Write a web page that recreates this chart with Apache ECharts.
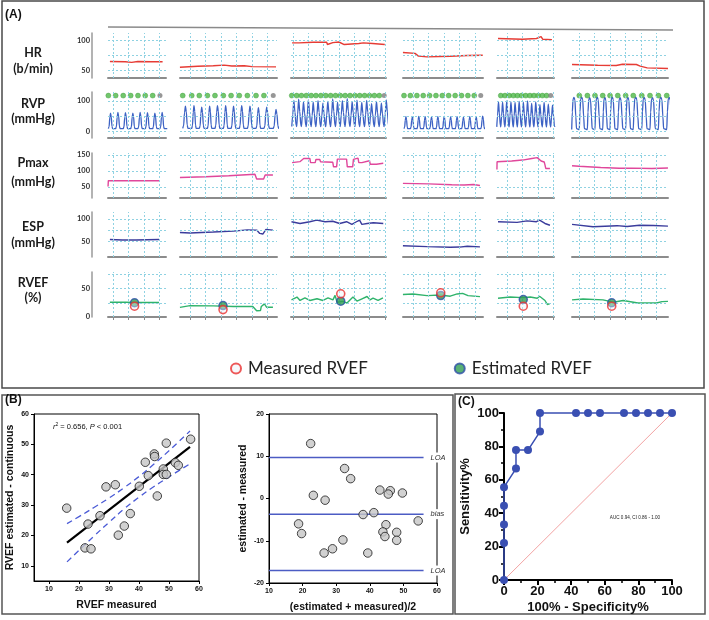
<!DOCTYPE html>
<html><head><meta charset="utf-8">
<script src="https://cdn.jsdelivr.net/npm/echarts@6/dist/echarts.min.js"></script>
<style>html,body{margin:0;padding:0;background:#fff}#c{width:709px;height:620px}</style>
</head><body><div id="c"></div>
<script>
// ================= DATA =================
// Panel A row labels
const rowNames = ['HR','RVP','Pmax','ESP','RVEF'];
const rowUnits = ['(b/min)','(mmHg)','(mmHg)','(mmHg)','(%)'];
// tick labels (first column y axes)
const hrTicks = [50,100];
const rvpTicks = [0,100];
const pmaxTicks = [50,100,150];
const espTicks = [50,100];
const rvefTicks = [0,50];
// horizontal reference grid values
const hrGridVals = [50,75,100];
const rvpGridVals = [0,50,100];
const pmaxGridVals = [50,100,150];
const espGridVals = [50,75,100];
const rvefGridVals = [25,50,75];

// HR traces [time(s), b/min]
const hr1 = [[-0.2,64.5],[0.8,64],[1.2,63],[1.6,64.5],[2.5,64],[3.2,64]];
const hr2 = [[-0.65,55],[0.5,56.5],[1.5,57.5],[2.2,58.5],[2.7,57],[3.5,57.5],[4.0,56],[5.55,55.5]];
const hr3 = [[-0.06,95.5],[0.4,95.5],[0.45,98],[1.3,96.7],[2.2,96.5],[2.25,92.8],[2.6,96],[3.0,97],[3.35,92.8],[4.3,94.5],[4.6,95.5],[5.2,94.5],[6.0,92.8]];
const hr4 = [[-0.65,79.5],[0.13,78],[0.35,73.5],[0.9,72.2],[2.4,73.3],[3.5,74.5],[4.5,75]];
const hr5 = [[-0.58,102.8],[1.0,101.7],[1.05,104.5],[1.9,102.8],[2.0,106],[2.2,106],[2.3,101.7],[2.9,101]];
const hr6 = [[-0.45,59.5],[1.2,58.3],[2.4,57.8],[2.8,60],[3.7,59.5],[3.95,56.7],[4.4,53.8],[5.74,52.8]];

// RVP: beat onsets (s) and peak pressures (mmHg) per cell
const rvpOnsets1 = [-0.30,0.17,0.66,1.14,1.61,2.08,2.56,3.03];
const rvpPeaks1  = [60,62,61,60,62,61,60,62];
const rvpOnsets2 = [-0.47,0.11,0.6,1.12,1.61,2.15,2.65,3.18,3.7,4.26,4.77,5.37];
const rvpPeaks2  = [83,85,80,83,85,85,83,85,83,78,80,72];
const rvpOnsets3 = [-0.08,0.24,0.55,0.87,1.19,1.5,1.82,2.14,2.46,2.78,3.09,3.41,3.73,4.05,4.36,4.68,5.0,5.32,5.64,5.96];
const rvpPeaks3  = [102,106,97,104,96,101,93,99,107,96,101,108,98,103,95,102,91,99,93,104];
const rvpOnsets4 = [-0.58,-0.17,0.25,0.66,1.07,1.48,1.89,2.3,2.72,3.13,3.54,3.95,4.37];
const rvpPeaks4  = [48,47,49,48,47,48,49,47,48,46,48,47,50];
const rvpOnsets5 = [-0.66,-0.4,-0.13,0.14,0.41,0.67,0.94,1.21,1.48,1.74,2.01,2.28,2.55,2.82];
const rvpPeaks5  = [98,96,100,97,95,99,96,100,92,97,88,95,90,86];
const rvpOnsets6 = [-0.47,0.02,0.54,1.03,1.53,2.0,2.5,3.01,3.5,4.05,4.58,5.12,5.66];
const rvpPeaks6  = [112,113,111,113,112,113,111,112,113,112,111,113,112];
const rvpTroughs = [8,9,15,8,14,5];
const rvpDotLevel = 118;
const rvpGrayLast = [true,true,true,true,true,false];

// Pmax traces
const pmax1 = [[-0.32,52],[-0.3,70],[0.5,69.5],[2.97,69.5]];
const pmax2 = [[-0.65,80],[1,82],[2.5,85],[4.19,90],[4.3,75],[4.75,75],[4.85,87.5],[5.35,87.5]];
const pmax3 = [[-0.06,126],[0.45,129],[0.7,139],[1.1,139],[1.15,126],[1.45,126],[1.5,136],[1.75,136],[1.8,129],[2.6,127],[2.65,113],[2.85,113],[2.9,137],[3.5,137],[3.55,113],[3.9,113],[3.95,136],[4.0,136],[4.05,140],[4.25,140],[4.3,126],[4.5,126],[4.55,132],[5.0,132],[5.05,121],[5.45,121],[5.5,124],[5.9,124]];
const pmax4 = [[-0.65,61.5],[1,60],[2.5,57],[3.3,56.5],[3.4,59],[3.9,58],[4.0,55.5],[4.32,55]];
const pmax5 = [[-0.65,105],[-0.64,129],[0.3,131],[1.0,134],[1.1,139],[1.6,139],[1.65,134],[1.7,141.6],[1.95,141.6],[2.2,131],[2.4,128],[2.45,119],[2.5,108],[2.77,108]];
const pmax6 = [[-0.45,116.5],[0.0,115],[0.1,111.5],[1.4,111],[1.5,108],[2.6,108.5],[2.7,109.5],[3.4,109],[3.5,108],[4.7,108],[4.8,109.5],[5.74,109.5]];

// ESP traces
const esp1 = [[-0.2,53.5],[0.6,52.5],[1.5,52.5],[2.2,53],[2.97,53.5]];
const esp2 = [[-0.65,69.5],[0,68.5],[1.5,70.5],[2.8,72.7],[3.7,75.5],[4.3,75],[4.5,67.5],[4.7,66],[4.9,76.5],[5.35,75]];
const esp3 = [[-0.1,94],[0.46,90],[1.1,94],[1.55,97.5],[2.1,94],[2.6,95],[3.05,90],[3.5,94],[3.85,88],[4.2,95],[4.35,97.5],[4.5,88],[4.85,90],[5.25,91.5],[5.9,90]];
const esp4 = [[-0.65,39.5],[0.9,37.5],[2.4,36],[3.0,36.5],[3.5,38.5],[4.32,37]];
const esp5 = [[-0.58,94],[0.65,92.5],[1.3,96],[1.9,94],[2.1,97.5],[2.45,90],[2.77,86]];
const esp6 = [[-0.45,88],[0.9,82.5],[2.45,85],[3.1,83],[3.9,86],[4.8,85.5],[5.74,84]];

// RVEF traces
const rvef1 = [[-0.2,26],[0.8,26],[1.5,25.5],[2.2,25.5],[2.97,25.5]];
const rvef2 = [[-0.65,17],[0,20],[1.5,19.5],[2.8,18.5],[4.05,18.5],[4.3,11],[4.55,11.5],[4.6,18.5],[4.8,23],[4.95,17],[5.35,17]];
const rvef3 = [[-0.1,30],[0.26,35],[0.46,29],[0.78,33.5],[1.1,29],[1.57,32],[1.96,29],[2.29,33.5],[2.61,30],[2.75,38],[2.88,26],[3.27,27.5],[3.53,24.5],[3.92,35],[4.18,28],[4.51,32],[4.84,36],[5.03,30],[5.23,33],[5.56,29],[5.88,33.5]];
const rvef4 = [[-0.65,39.5],[0,40.5],[0.9,37.5],[1.75,38.5],[2.4,36.5],[2.85,40.5],[3.2,41.5],[3.55,37.5],[4.32,35.7]];
const rvef5 = [[-0.58,33],[0.2,35],[1.0,34],[1.5,35],[1.95,33],[2.1,36.5],[2.45,29],[2.6,22],[2.77,23.5]];
const rvef6 = [[-0.45,30],[0.26,31.5],[1.55,30],[2.2,26],[2.85,29],[3.8,24.5],[5.0,24.5],[5.35,27],[5.74,27.5]];
const rvefPointT   = [1.39,2.13,3.12,1.79,1.05,2.11];
const rvefEstimated = [25,20,27.7,37.7,30.7,25];
const rvefMeasured  = [19,13,40.7,42.5,19,19];

// Panel B (left) scatter
const scMeasured  = [15.9,22,23,24,27,29,32.1,33.1,35.1,37.1,40.1,42.1,43.1,45.1,45.2,46.1,48.1,48.1,49.1,49.1,52.1,53.1,57.2];
const scEstimated = [29,15.9,23.75,15.6,26.5,36,36.7,20.1,23.1,27.2,36.2,44.1,39.7,46.85,46,33,41.9,40.1,50.4,40.1,44,43.1,51.7];
const regX = [16,57];
const regY = [17.6,49.2];
const ciX = [16,20,25,30,35,40,45,50,57];
const ciUpper = [23.9,26.2,29.2,32.3,35.7,39.4,43.5,47.9,54.4];
const ciLower = [11.3,15.1,19.8,24.3,28.7,32.6,36.1,39.3,43.6];
const scTicks = [10,20,30,40,50,60];

// Panel B (right) Bland-Altman
const baMean = [22.4,32.5,34.3,23.2,26.7,18.8,19.7,26.4,28.9,32.0,38.0,41.2,39.4,43.0,46.1,45.5,49.7,44.8,43.9,44.5,48.0,48.0,54.4];
const baDiff = [13.0,7.1,4.7,0.75,-0.4,-6.0,-8.3,-12.9,-11.9,-9.8,-3.8,-3.35,-12.9,2.0,1.85,1.05,1.3,-6.2,-7.9,-9.0,-8.0,-9.9,-5.3];
const baLineY = [9.7,-3.7,-17.05];
const baLineNames = ['LOA','bias','LOA'];
const baLineX = [10,56];

// Panel C ROC
const rocFpr = [0,0,0,0,0,7.14,7.14,14.29,21.43,21.43,42.86,50,57.14,71.43,78.57,85.71,92.86,100];
const rocTpr = [0,22.2,33.3,44.4,55.6,66.7,77.8,77.8,88.9,100,100,100,100,100,100,100,100,100];

// ================= LAYOUT / STYLE =================
const colLeft = [108,180,291,403,497,572];
const colWidth = [58,97,95,80,57,96];
const colGridOffset = [5,10,2,10,10,7];
const colPxPerSec = [15.5,15.5,15.3,15.5,15.5,15.5];
const rowTop = [33,92,153,212,272];
const rowHeight = [45,46,45,45,45];
const rowMin = [37,-23,16,14,0];
const rowMax = [112,130,156,116,79];
const rowLabelY = [[53,69],[104,119],[163,182],[227,243],[283,298]];
const rowColor = ['#e63c35','#3d62c4','#e0479b','#3b3c9c','#2fb36b'];
const rowTicks = [hrTicks,rvpTicks,pmaxTicks,espTicks,rvefTicks];
const rowGridVals = [hrGridVals,rvpGridVals,pmaxGridVals,espGridVals,rvefGridVals];
const traces = [
  [hr1,hr2,hr3,hr4,hr5,hr6], null,
  [pmax1,pmax2,pmax3,pmax4,pmax5,pmax6],
  [esp1,esp2,esp3,esp4,esp5,esp6],
  [rvef1,rvef2,rvef3,rvef4,rvef5,rvef6]
];
const rvpOnsets = [rvpOnsets1,rvpOnsets2,rvpOnsets3,rvpOnsets4,rvpOnsets5,rvpOnsets6];
const rvpPeaks = [rvpPeaks1,rvpPeaks2,rvpPeaks3,rvpPeaks4,rvpPeaks5,rvpPeaks6];
const beatShapes = {
  narrow: [[0,0],[0.1,0.12],[0.2,0.7],[0.3,1],[0.4,0.75],[0.5,0.15],[0.58,0],[1,0]],
  fast:   [[0,0],[0.2,0.45],[0.42,1],[0.65,0.55],[0.88,0.05],[1,0]],
  broad:  [[0,0],[0.08,0.55],[0.18,0.95],[0.3,1],[0.42,0.92],[0.54,0.4],[0.63,0.03],[1,0]]
};
const rvpShapeOf = ['narrow','narrow','fast','narrow','fast','broad'];

function buildWave(onsets, peaks, trough, shape){
  const pts = [];
  for (let i=0;i<onsets.length;i++){
    const t0 = onsets[i];
    const t1 = i<onsets.length-1 ? onsets[i+1] : t0 + (onsets[i]-onsets[i-1]);
    shape.forEach(([f,s],j)=>{
      if (j===shape.length-1 && i<onsets.length-1) return;
      pts.push([t0+f*(t1-t0), trough + s*(peaks[i]-trough)]);
    });
  }
  return pts;
}

const grids=[], xAxes=[], yAxes=[], series=[];
function addGrid(g,x,y){
  const gi = grids.length;
  grids.push(g);
  xAxes.push(Object.assign({gridIndex:gi}, x));
  yAxes.push(Object.assign({gridIndex:gi}, y));
  return gi;
}
const fA = 'Lato';
const fB = 'Liberation Sans';

for (let r=0;r<5;r++){
  for (let c=0;c<6;c++){
    const tMin = -colGridOffset[c]/colPxPerSec[c];
    const tMax = (colWidth[c]-colGridOffset[c])/colPxPerSec[c];
    const ints = [];
    for (let k=Math.ceil(tMin); k<=Math.floor(tMax); k++) ints.push(k);
    const gi = addGrid(
      {left:colLeft[c], top:rowTop[r], width:colWidth[c], height:rowHeight[r]},
      {type:'value', min:tMin, max:tMax,
       axisLine:{show:true, onZero:false, lineStyle:{color:'#8c8c8c', width:2}},
       axisTick: r===4 ? {show:true, customValues:ints, length:3, lineStyle:{color:'#8c8c8c', width:1}} : {show:false},
       axisLabel:{show:false}, splitLine:{show:false}},
      {type:'value', min:rowMin[r], max:rowMax[r], show:c===0, offset:16,
       axisLine:{show:true, onZero:false, lineStyle:{color:'#9a9a9a', width:1.5}},
       axisTick:{show:false},
       axisLabel:{customValues:rowTicks[r], fontSize:7.5, fontWeight:'bold', color:'#333', margin:2, fontFamily:fA},
       splitLine:{show:false}}
    );
    // dotted reference grid
    series.push({type:'line', xAxisIndex:gi, yAxisIndex:gi, data:[], silent:true, z:1,
      markLine:{silent:true, symbol:['none','none'], animation:false, label:{show:false},
        lineStyle:{color:'#8fd2e2', type:[2,2], width:1},
        data:[...ints.map(v=>({xAxis:v})), ...rowGridVals[r].map(v=>({yAxis:v}))]}});
    if (r===1){
      series.push({type:'line', xAxisIndex:gi, yAxisIndex:gi, silent:true, z:3,
        data: buildWave(rvpOnsets[c], rvpPeaks[c], rvpTroughs[c], beatShapes[rvpShapeOf[c]]),
        symbol:'none', smooth:0.3, smoothMonotone:'x', lineStyle:{color:rowColor[r], width:1.3}});
      const on = rvpOnsets[c];
      const greens = rvpGrayLast[c] ? on.slice(0,-1) : on;
      series.push({type:'scatter', xAxisIndex:gi, yAxisIndex:gi, silent:true, z:4,
        data: greens.map(t=>[t,rvpDotLevel]), symbolSize:5,
        itemStyle:{color:'#4fb848', borderColor:'#3c9a38', borderWidth:0.5}});
      if (rvpGrayLast[c]) series.push({type:'scatter', xAxisIndex:gi, yAxisIndex:gi, silent:true, z:4,
        data: [[on[on.length-1],rvpDotLevel]], symbolSize:5, itemStyle:{color:'#7d7d7d'}});
    } else {
      series.push({type:'line', xAxisIndex:gi, yAxisIndex:gi, silent:true, z:3,
        data: traces[r][c], symbol:'none', lineStyle:{color:rowColor[r], width:1.4}});
    }
    if (r===4){
      series.push({type:'scatter', name:'Estimated RVEF', xAxisIndex:gi, yAxisIndex:gi, z:5, silent:true,
        data:[[rvefPointT[c], rvefEstimated[c]]], symbolSize:8,
        itemStyle:{color:'#2f9e52', borderColor:'#2d4da6', borderWidth:1.5}});
      series.push({type:'scatter', name:'Measured RVEF', xAxisIndex:gi, yAxisIndex:gi, z:6, silent:true,
        data:[[rvefPointT[c], rvefMeasured[c]]], symbolSize:8,
        itemStyle:{color:'rgba(236,240,248,0.5)', borderColor:'#ea3030', borderWidth:1.6}});
    }
  }
}

// ---- Panel B left: scatter regression
const axB = {axisLine:{onZero:false, lineStyle:{color:'#000', width:1}},
  axisTick:{length:3, lineStyle:{color:'#000'}}, splitLine:{show:false}};
const gB1 = addGrid({left:34, top:414, width:165, height:167, show:true, borderColor:'#000', borderWidth:1},
  Object.assign({type:'value', min:5, max:60, name:'RVEF measured', nameLocation:'middle', nameGap:19,
    nameTextStyle:{fontSize:10.5, fontWeight:'bold', fontFamily:fB, color:'#111'},
    axisLabel:{customValues:scTicks, fontSize:7, fontWeight:'bold', fontFamily:fB, color:'#111', margin:5}}, axB,
    {axisTick:{customValues:scTicks, length:3, lineStyle:{color:'#000'}}}),
  Object.assign({type:'value', min:5, max:60, name:'RVEF estimated - continuous', nameLocation:'middle', nameGap:18, nameRotate:90,
    nameTextStyle:{fontSize:10.5, fontWeight:'bold', fontFamily:fB, color:'#111'},
    axisLabel:{customValues:scTicks, fontSize:7, fontWeight:'bold', fontFamily:fB, color:'#111', margin:5}}, axB,
    {axisTick:{customValues:scTicks, length:3, lineStyle:{color:'#000'}}})
);
series.push({type:'line', xAxisIndex:gB1, yAxisIndex:gB1, silent:true, z:2, symbol:'none',
  data: ciX.map((x,i)=>[x,ciUpper[i]]), smooth:true, lineStyle:{color:'#4b5bd6', width:1.3, type:[6,4]}});
series.push({type:'line', xAxisIndex:gB1, yAxisIndex:gB1, silent:true, z:2, symbol:'none',
  data: ciX.map((x,i)=>[x,ciLower[i]]), smooth:true, lineStyle:{color:'#4b5bd6', width:1.3, type:[6,4]}});
series.push({type:'line', xAxisIndex:gB1, yAxisIndex:gB1, silent:true, z:3, symbol:'none',
  data: regX.map((x,i)=>[x,regY[i]]), lineStyle:{color:'#000', width:2.2}});
series.push({type:'scatter', xAxisIndex:gB1, yAxisIndex:gB1, silent:true, z:4,
  data: scMeasured.map((x,i)=>[x,scEstimated[i]]), symbolSize:8.5,
  itemStyle:{color:'#c6c6c6', borderColor:'#1a1a1a', borderWidth:1}});

// ---- Panel B right: Bland-Altman
const gB2 = addGrid({left:269, top:414, width:168, height:169, show:true, borderColor:'#000', borderWidth:1},
  Object.assign({type:'value', min:10, max:60, interval:10, name:'(estimated + measured)/2', nameLocation:'middle', nameGap:19,
    nameTextStyle:{fontSize:10.5, fontWeight:'bold', fontFamily:fB, color:'#111'},
    axisLabel:{fontSize:7, fontWeight:'bold', fontFamily:fB, color:'#111', margin:5}}, axB),
  Object.assign({type:'value', min:-20, max:20, interval:10, name:'estimated - measured', nameLocation:'middle', nameGap:20, nameRotate:90,
    nameTextStyle:{fontSize:10.5, fontWeight:'bold', fontFamily:fB, color:'#111'},
    axisLabel:{fontSize:7, fontWeight:'bold', fontFamily:fB, color:'#111', margin:5}}, axB)
);
baLineY.forEach((y,i)=>{
  series.push({type:'line', xAxisIndex:gB2, yAxisIndex:gB2, silent:true, z:2, symbol:'none', clip:false,
    data: baLineX.map(x=>[x,y]), lineStyle:{color:'#4c5cc4', width:1.5},
    endLabel:{show:true, formatter:baLineNames[i], distance:6, fontSize:7.5, fontStyle:'italic',
      fontFamily:fB, color:'#333', backgroundColor:'#fff', padding:[1,1]}});
});
series.push({type:'scatter', xAxisIndex:gB2, yAxisIndex:gB2, silent:true, z:4,
  data: baMean.map((x,i)=>[x,baDiff[i]]), symbolSize:8.5,
  itemStyle:{color:'#c6c6c6', borderColor:'#1a1a1a', borderWidth:1}});

// ---- Panel C: ROC
const axC = {type:'value', min:0, max:100, interval:20,
  axisLine:{onZero:false, lineStyle:{color:'#000', width:2}},
  axisTick:{length:5, lineStyle:{color:'#000', width:2}},
  minorTick:{show:true, splitNumber:2, length:3, lineStyle:{color:'#000', width:1.5}},
  splitLine:{show:false}, minorSplitLine:{show:false},
  nameLocation:'middle', nameTextStyle:{fontSize:13, fontWeight:'bold', fontFamily:fB, color:'#111'},
  axisLabel:{fontSize:13, fontWeight:'bold', fontFamily:fB, color:'#111', margin:5}};
const gC = addGrid({left:504, top:413, width:168, height:167},
  Object.assign({}, axC, {name:'100% - Specificity%', nameGap:21}),
  Object.assign({}, axC, {name:'Sensitivity%', nameGap:32, nameRotate:90}));
series.push({type:'line', xAxisIndex:gC, yAxisIndex:gC, silent:true, z:2, symbol:'none',
  data:[[0,0],[100,100]], lineStyle:{color:'#f2a3a3', width:1}});
series.push({type:'line', xAxisIndex:gC, yAxisIndex:gC, silent:true, z:3, clip:false,
  data: rocFpr.map((x,i)=>[x,rocTpr[i]]), symbol:'circle', symbolSize:8, showAllSymbol:true,
  lineStyle:{color:'#3a4fb2', width:1.5}, itemStyle:{color:'#3a4fb2'}});

// ---- graphics (frames & annotations)
const graphics = [
  {type:'rect', shape:{x:2, y:1, width:702, height:387}, style:{fill:'none', stroke:'#4a4a4a', lineWidth:1.5}},
  {type:'rect', shape:{x:2, y:395, width:451, height:219}, style:{fill:'none', stroke:'#555', lineWidth:1.5}},
  {type:'rect', shape:{x:455, y:394, width:250, height:220}, style:{fill:'none', stroke:'#555', lineWidth:1.5}},
  {type:'line', shape:{x1:108, y1:27, x2:673, y2:30}, style:{stroke:'#8a8a8a', lineWidth:1.5}},
  {type:'text', x:5, y:15, style:{text:'(A)', font:'bold 12px '+fB, fill:'#111', verticalAlign:'middle'}},
  {type:'text', x:5, y:400, style:{text:'(B)', font:'bold 12px '+fB, fill:'#111', verticalAlign:'middle'}},
  {type:'text', x:458, y:402, style:{text:'(C)', font:'bold 12px '+fB, fill:'#111', verticalAlign:'middle'}},
  {type:'text', x:53, y:427, style:{text:'{i|r}{s|2} = 0.656, {i|P} < 0.001', font:'7.5px '+fB, fill:'#111', verticalAlign:'middle',
    rich:{i:{fontStyle:'italic', fontSize:7.5, fontFamily:fB}, s:{fontSize:5, fontFamily:fB, padding:[0,0,5,0]}}}},
  {type:'text', x:635, y:518, style:{text:'AUC 0.94, CI 0.86 - 1.00', font:'4.6px '+fB, fill:'#222', align:'center', verticalAlign:'middle'}}
];
rowNames.forEach((n,r)=>{
  graphics.push({type:'text', x:33, y:rowLabelY[r][0], style:{text:n, font:'bold 12.5px '+fA, fill:'#1a1a1a', align:'center', verticalAlign:'middle'}});
  graphics.push({type:'text', x:33, y:rowLabelY[r][1], style:{text:rowUnits[r], font:'bold 12.5px '+fA, fill:'#1a1a1a', align:'center', verticalAlign:'middle'}});
});

const chart = echarts.init(document.getElementById('c'), null, {renderer:'canvas'});
chart.setOption({
  animation:false,
  backgroundColor:'#fff',
  legend:{data:['Measured RVEF','Estimated RVEF'], left:225, top:355, icon:'circle', itemWidth:10, itemHeight:10,
    itemGap:86, selectedMode:false, textStyle:{fontSize:17, fontFamily:fA, color:'#222', padding:[0,0,0,2]}},
  grid:grids, xAxis:xAxes, yAxis:yAxes, series:series,
  graphic:{elements:graphics}
});
</script></body></html>
